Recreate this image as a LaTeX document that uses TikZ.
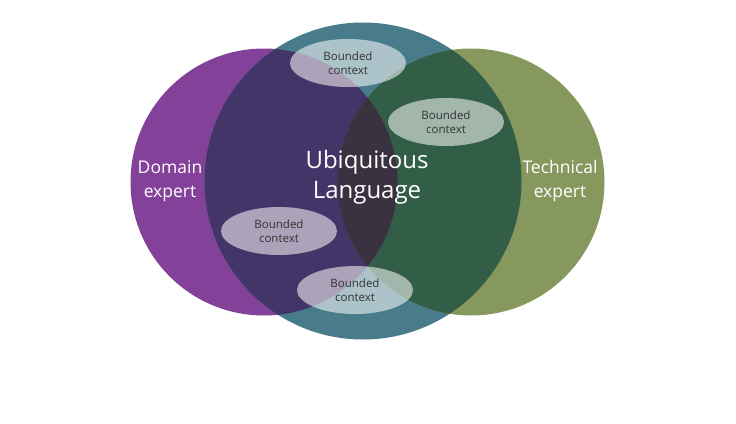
\documentclass[tikz,border=0pt]{standalone}
\usepackage{fontspec}
\setmainfont{Open Sans}
\definecolor{domainpurple}{HTML}{84419A}
\definecolor{ulteal}{HTML}{487C8A}
\definecolor{techolive}{HTML}{87985E}
\definecolor{navyoverlap}{HTML}{433568}
\definecolor{greenoverlap}{HTML}{325E48}
\definecolor{coreoverlap}{HTML}{3A3240}
\tikzset{
  bctx/.style={ellipse, fill=white, fill opacity=0.55, text opacity=1,
    text=black!80, minimum width=116pt, minimum height=48pt, inner sep=0pt,
    align=center, font=\fontsize{11.5}{13.5}\selectfont},
  biglabel/.style={text=white, align=center}
}
\usetikzlibrary{shapes.geometric}
\begin{document}
\begin{tikzpicture}[x=1pt,y=-1pt]
    \useasboundingbox (0,0) rectangle (736,423);
    \coordinate (dom) at (264,182);
    \coordinate (ul) at (363,181);
    \coordinate (tech) at (471,182);
    \fill[domainpurple] (dom) circle (133.5);
    \fill[ulteal] (ul) circle (158.5);
    \fill[techolive] (tech) circle (133.5);
    \begin{scope}
      \clip (ul) circle (158.5);
      \fill[navyoverlap] (dom) circle (133.5);
      \fill[greenoverlap] (tech) circle (133.5);
      \clip (dom) circle (133.5);
      \fill[coreoverlap] (tech) circle (133.5);
    \end{scope}
    \node[bctx] (bc1) at (348,63) {Bounded\\context};
    \node[bctx] (bc2) at (446,122) {Bounded\\context};
    \node[bctx] (bc3) at (279,231) {Bounded\\context};
    \node[bctx] (bc4) at (355,290) {Bounded\\context};
    \node[biglabel, font=\fontsize{24}{30}\selectfont] (ubi) at (367,177) {Ubiquitous\\Language};
    \node[biglabel, font=\fontsize{17.5}{24}\selectfont] (domain) at (170,181) {Domain\\expert};
    \node[biglabel, font=\fontsize{17.5}{24}\selectfont] (technical) at (560,181) {Technical\\expert};
\end{tikzpicture}
\end{document}
